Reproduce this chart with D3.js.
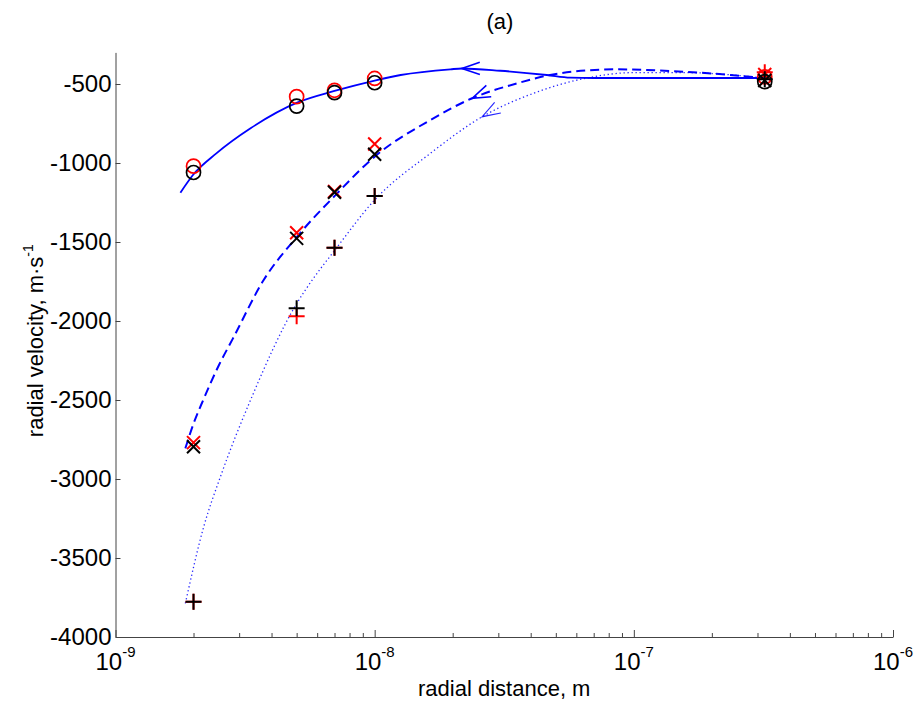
<!DOCTYPE html>
<html>
<head>
<meta charset="utf-8">
<script src="https://cdn.jsdelivr.net/npm/d3@7"></script>
<style>
  html, body { margin: 0; padding: 0; background: #fff; }
  svg { display: block; font-family: "Liberation Sans", Arial, sans-serif; }
</style>
</head>
<body>
<svg id="chart" width="918" height="702"></svg>
<script>
// Measured radial velocities at each radial distance (two runs: red and black)
const distances   = [2e-9, 5e-9, 7e-9, 1e-8, 3.2e-7];
const circleRed   = [-1020, -580, -540, -465, -455];
const circleBlack = [-1060, -640, -555, -492, -485];
const crossRed    = [-2770, -1441, -1180, -880, -440];
const crossBlack  = [-2796, -1477, -1185, -945, -478];
const plusRed     = [-3777, -1970, -1536, -1209, -425];
const plusBlack   = [-3777, -1920, -1536, -1209, -470];

// Trajectory curves (distance, velocity)
const solidX  = [1.78e-9, 1.99e-9, 2.45e-9, 3.32e-9, 5.02e-9, 7e-9, 1e-8, 1.26e-8, 1.96e-8, 2.17e-8, 3.05e-8, 4.62e-8, 5.69e-8, 7e-8, 3.2e-7];
const solidV  = [-1188, -1076, -939, -780, -618, -544, -478, -443, -407, -402, -416, -443, -460, -462, -462];
const dashedX = [1.86e-9, 2e-9, 2.18e-9, 2.5e-9, 2.84e-9, 3.73e-9, 5.02e-9, 7.06e-9, 1e-8, 1.64e-8, 2.38e-8, 3.54e-8, 5.2e-8, 8.6e-8, 1.55e-7, 3.2e-7];
const dashedV = [-2806, -2650, -2500, -2283, -2110, -1741, -1466, -1203, -960, -728, -590, -496, -432, -407, -422, -462];
const dottedX = [1.86e-9, 2.19e-9, 2.54e-9, 3.32e-9, 5e-9, 5.74e-9, 6.95e-9, 1e-8, 1.64e-8, 2.6e-8, 4.1e-8, 6.5e-8, 1e-7, 1.55e-7, 3.2e-7];
const dottedV = [-3787, -3302, -2986, -2500, -1890, -1741, -1561, -1234, -939, -707, -559, -464, -428, -428, -462];

// Where the direction arrows sit on each curve
const arrowX = [2.17e-8, 2.38e-8, 2.6e-8];

const yTicks = [-4000, -3500, -3000, -2500, -2000, -1500, -1000, -500];
const xMajor = [1e-9, 1e-8, 1e-7, 1e-6];
const xExp   = ["-9", "-8", "-7", "-6"];

const svg = d3.select("#chart");
const plotLeft = 115.5, plotRight = 893, plotTop = 52.4, plotBottom = 637;

const x = d3.scaleLog().domain([1e-9, 1e-6]).range([plotLeft, plotRight]);
const y = d3.scaleLinear().domain([-4000, -300]).range([plotBottom, plotTop]);

// Axes (ticks point inward)
const minor = [];
[1e-9, 1e-8, 1e-7].forEach(d => { for (let k = 2; k <= 9; k++) minor.push(d * k); });

svg.append("g").attr("transform", `translate(0,${plotBottom})`)
  .call(d3.axisBottom(x).tickValues(xMajor).tickSizeInner(-7).tickSizeOuter(0).tickFormat(""));
svg.append("g").attr("transform", `translate(0,${plotBottom})`)
  .call(d3.axisBottom(x).tickValues(minor).tickSizeInner(-4).tickSizeOuter(0).tickFormat(""))
  .select(".domain").remove();

const gy = svg.append("g").attr("transform", `translate(${plotLeft},0)`)
  .call(d3.axisLeft(y).tickValues(yTicks).tickSizeInner(-5).tickSizeOuter(0).tickPadding(4)
    .tickFormat(d => String(d)));
gy.selectAll("text").attr("font-size", 24).attr("fill", "#000")
  .attr("font-family", "Liberation Sans, Arial, sans-serif");

svg.selectAll(".domain, .tick line").attr("stroke", "#444").attr("stroke-width", 1);

// x tick labels with exponents
xMajor.forEach((d, i) => {
  const t = svg.append("text").attr("x", x(d)).attr("y", 670).attr("text-anchor", "middle")
    .attr("font-size", 24).attr("fill", "#000");
  t.append("tspan").text("10");
  t.append("tspan").attr("dy", -13).attr("font-size", 15).text(xExp[i]);
});

// Title and axis labels
svg.append("text").attr("x", 500).attr("y", 29).attr("text-anchor", "middle")
  .attr("font-size", 22).text("(a)");
svg.append("text").attr("x", (plotLeft + plotRight) / 2).attr("y", 696).attr("text-anchor", "middle")
  .attr("font-size", 22).text("radial distance, m");
const yl = svg.append("text").attr("transform", `translate(43,${(plotTop + plotBottom) / 2 - 4}) rotate(-90)`)
  .attr("text-anchor", "middle").attr("font-size", 22);
yl.append("tspan").text("radial velocity, m\u00B7s");
yl.append("tspan").attr("dy", -10).attr("font-size", 14).text("-1");

// Curves
const line = d3.line().x(d => x(d[0])).y(d => y(d[1])).curve(d3.curveMonotoneX);
const curves = [
  { xs: solidX,  vs: solidV,  width: 1.8, dash: null,      opacity: 1 },
  { xs: dashedX, vs: dashedV, width: 2,   dash: "9,5",     opacity: 1 },
  { xs: dottedX, vs: dottedV, width: 1.3, dash: "1.3,2.7", opacity: 0.85 }
];

curves.forEach((c, i) => {
  const pts = c.xs.map((d, j) => [d, c.vs[j]]);
  const path = svg.append("path").datum(pts).attr("d", line)
    .attr("fill", "none").attr("stroke", "#0000ff").attr("stroke-width", c.width)
    .attr("stroke-opacity", c.opacity)
    .attr("stroke-dasharray", c.dash);

  // Open arrowhead pointing back toward small distances
  const node = path.node();
  const total = node.getTotalLength();
  const tx = x(arrowX[i]);
  let lo = 0, hi = total;
  for (let k = 0; k < 40; k++) {
    const mid = (lo + hi) / 2;
    if (node.getPointAtLength(mid).x < tx) lo = mid; else hi = mid;
  }
  const s = (lo + hi) / 2;
  const p = node.getPointAtLength(s);
  const a = node.getPointAtLength(Math.max(0, s - 3));
  const b = node.getPointAtLength(Math.min(total, s + 3));
  const ang = Math.atan2(b.y - a.y, b.x - a.x);
  const L = 19, spread = 19 * Math.PI / 180;
  const b1 = [p.x + L * Math.cos(ang + spread), p.y + L * Math.sin(ang + spread)];
  const b2 = [p.x + L * Math.cos(ang - spread), p.y + L * Math.sin(ang - spread)];
  svg.append("path")
    .attr("d", `M${b1[0]},${b1[1]}L${p.x},${p.y}L${b2[0]},${b2[1]}`)
    .attr("fill", "none").attr("stroke", "#0000ff").attr("stroke-width", i === 2 ? 1.2 : 1.6)
    .attr("stroke-opacity", c.opacity);
});

// Markers
const markers = svg.append("g");
function drawCircles(vals, color) {
  markers.selectAll(null).data(distances.map((d, j) => [d, vals[j]])).enter()
    .append("circle").attr("cx", d => x(d[0])).attr("cy", d => y(d[1])).attr("r", 7)
    .attr("fill", "none").attr("stroke", color).attr("stroke-width", 1.7);
}
function drawCross(vals, color) {
  const h = 6.5;
  markers.selectAll(null).data(distances.map((d, j) => [d, vals[j]])).enter()
    .append("path")
    .attr("d", d => { const cx = x(d[0]), cy = y(d[1]);
      return `M${cx - h},${cy - h}L${cx + h},${cy + h}M${cx - h},${cy + h}L${cx + h},${cy - h}`; })
    .attr("stroke", color).attr("stroke-width", 2).attr("fill", "none");
}
function drawPlus(vals, color) {
  const h = 8;
  markers.selectAll(null).data(distances.map((d, j) => [d, vals[j]])).enter()
    .append("path")
    .attr("d", d => { const cx = x(d[0]), cy = y(d[1]);
      return `M${cx - h},${cy}L${cx + h},${cy}M${cx},${cy - h}L${cx},${cy + h}`; })
    .attr("stroke", color).attr("stroke-width", 2).attr("fill", "none");
}
drawCircles(circleRed, "#ff0000");
drawCross(crossRed, "#ff0000");
drawPlus(plusRed, "#ff0000");
drawCircles(circleBlack, "#000");
drawCross(crossBlack, "#000");
drawPlus(plusBlack, "#000");
</script>
</body>
</html>
